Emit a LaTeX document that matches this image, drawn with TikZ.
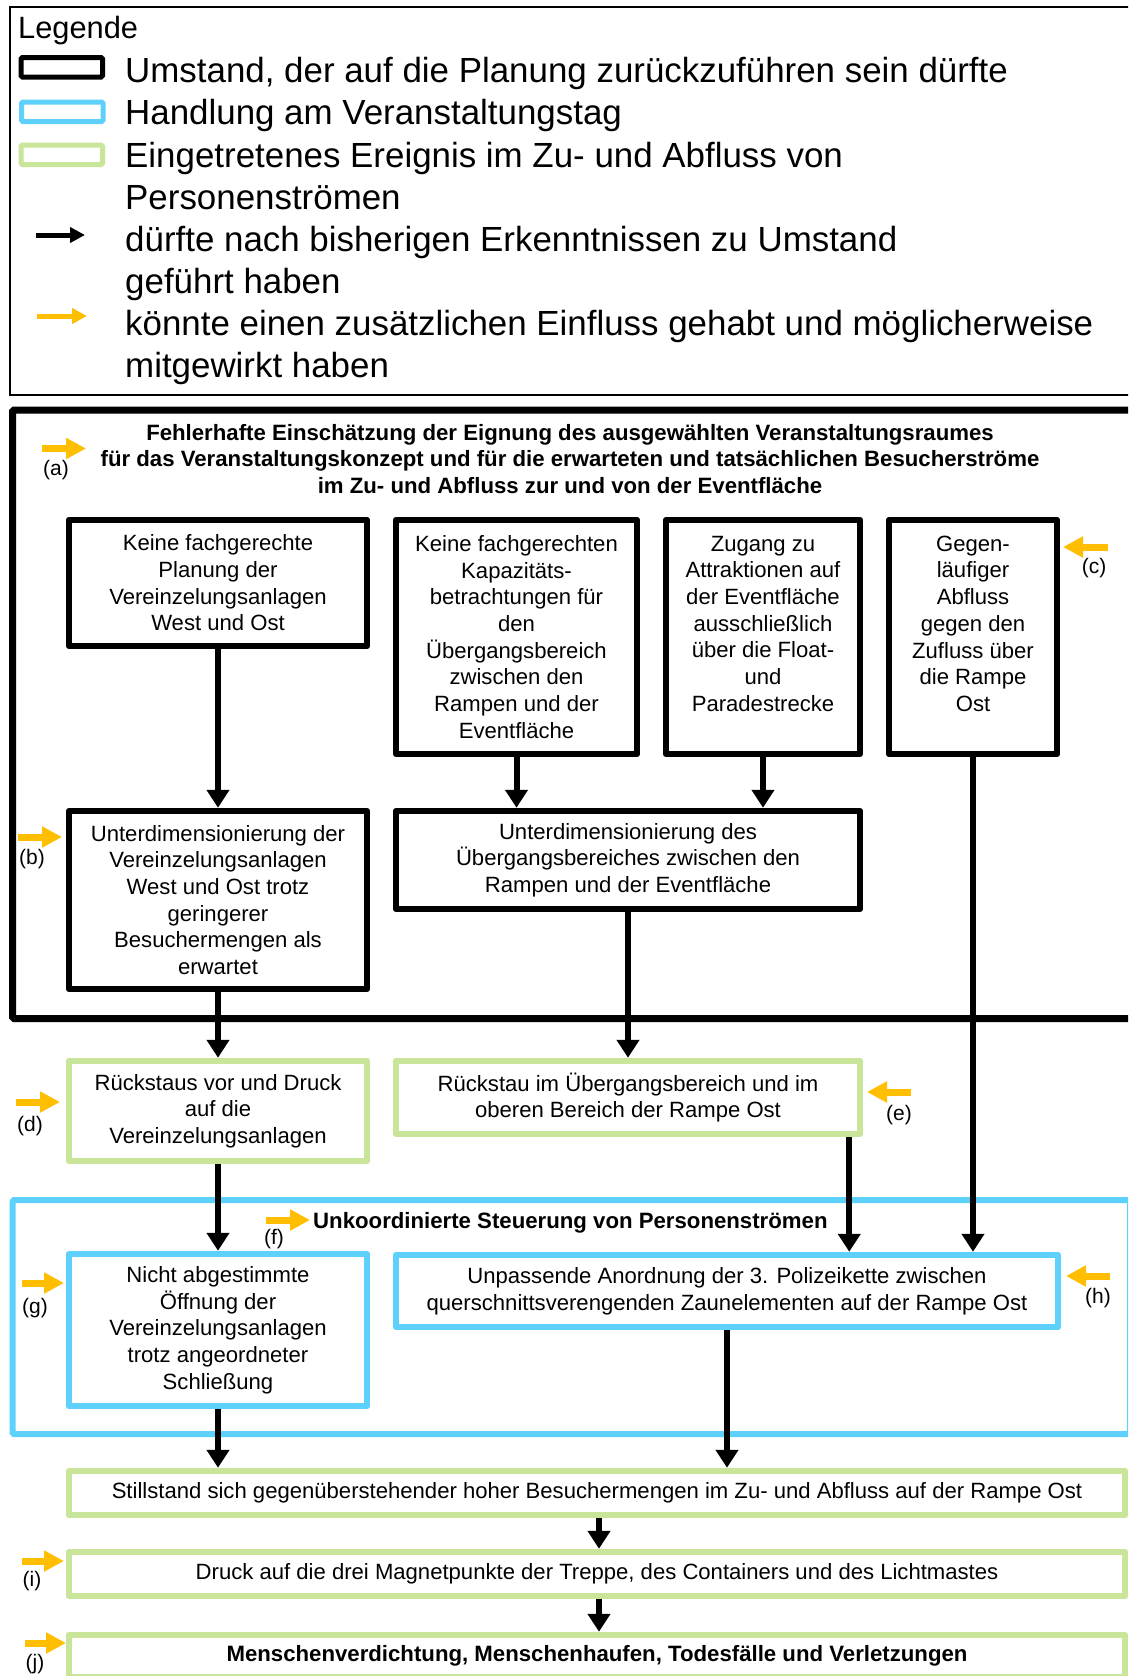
\documentclass[tikz,border=0pt]{standalone}
\usepackage{fontspec}
\setmainfont{Liberation Sans}
\usetikzlibrary{arrows.meta}
\definecolor{actblue}{RGB}{94,208,252}
\definecolor{evgreen}{RGB}{201,229,153}
\definecolor{hintorange}{RGB}{255,190,0}
\newcommand\myBoxFont{\fontsize{22.1}{26.7}\selectfont}
\newcommand\myBoldFont{\fontsize{22.2}{26.7}\selectfont\bfseries}
\newcommand\myTitleFont{\fontsize{22.2}{26.7}\selectfont\bfseries}
\newcommand\myLegFont{\fontsize{34.9}{42}\selectfont}
\newcommand\myLegHeadFont{\fontsize{30.8}{36}\selectfont}
\newcommand\myLabFont{\fontsize{21}{24}\selectfont}
\tikzset{
  boxbase/.style={rectangle, align=center, inner sep=0pt, font=\myBoxFont, line join=round},
  planbox/.style={boxbase, draw=black, line width=6.5pt},
  actbox/.style={boxbase, draw=actblue, line width=6.5pt},
  evbox/.style={boxbase, draw=evgreen, line width=6.5pt},
  flow/.style={-{Triangle[length=18pt,width=22pt]}, line width=6pt, draw=black},
  hint/.style={-{Triangle[length=20pt,width=20pt]}, line width=7pt, draw=hintorange},
  leglink/.style={-{Triangle[length=15pt,width=15pt]}, line width=5pt},
  lab/.style={font=\myLabFont, inner sep=0pt},
  legtext/.style={font=\myLegFont, align=left, anchor=west, inner sep=0pt},
}
\begin{document}
\begin{tikzpicture}[x=1pt,y=-1pt]
\useasboundingbox (0,0) rectangle (1128,1676);
\fill[white] (0,0) rectangle (1128,1676);
\clip (0,0) rectangle (1128,1676);

% ---------- legend ----------
\draw[line width=2pt] (10,7) rectangle (1140,395);
\node[font=\myLegHeadFont, anchor=west, inner sep=0pt] (leghead) at (18,31) {Legende};
\node[draw=black, line width=5pt, minimum width=81.5pt, minimum height=19.5pt, inner sep=0pt, rounded corners=1.5pt] (lk1) at (61.75,67.25) {};
\node[draw=actblue, line width=5pt, minimum width=81.5pt, minimum height=19.5pt, inner sep=0pt, rounded corners=1.5pt] (lk2) at (62.25,111.75) {};
\node[draw=evgreen, line width=5pt, minimum width=81.5pt, minimum height=19.5pt, inner sep=0pt, rounded corners=1.5pt] (lk3) at (61.75,154.75) {};
\node[legtext] (lt1) at (125,73) {Umstand, der auf die Planung zurückzuführen sein dürfte};
\node[legtext] (lt2) at (125,115) {Handlung am Veranstaltungstag};
\node[legtext] (lt3) at (125,176) {Eingetretenes Ereignis im Zu- und Abfluss von\\Personenströmen};
\node[legtext] (lt4) at (125,263) {dürfte nach bisherigen Erkenntnissen zu Umstand\\geführt haben};
\node[legtext] (lt5) at (125,347) {könnte einen zusätzlichen Einfluss gehabt und möglicherweise\\mitgewirkt haben};
\coordinate (la0) at (36,235); \coordinate (la1) at (85,235);
\draw[leglink, draw=black] (la0) -- (la1);
\coordinate (lb0) at (37,316); \coordinate (lb1) at (87,316);
\draw[leglink, draw=hintorange] (lb0) -- (lb1);

% ---------- frames ----------
\draw[line width=7pt, rounded corners=1.5pt] (12.5,410) rectangle (1140,1018.5);
\draw[line width=6pt, draw=actblue, rounded corners=1.5pt] (12.5,1200) rectangle (1130,1434);

% ---------- title texts ----------
\node[font=\myTitleFont, align=center, inner sep=0pt] (t1) at (570,459) {Fehlerhafte Einschätzung der Eignung des ausgewählten Veranstaltungsraumes\\für das Veranstaltungskonzept und für die erwarteten und tatsächlichen Besucherströme\\im Zu- und Abfluss zur und von der Eventfläche};
\node[font=\myBoldFont, anchor=west, inner sep=0pt] (t2) at (313,1223) {Unkoordinierte Steuerung von Personenströmen};

% ---------- boxes ----------
\node[planbox, minimum width=298pt, minimum height=126pt] (k1) at (218,583) {Keine fachgerechte\\Planung der\\Vereinzelungsanlagen\\West und Ost};
\node[planbox, minimum width=241pt, minimum height=234pt] (k2) at (516.5,637) {Keine fachgerechten\\Kapazitäts-\\betrachtungen für\\den\\Übergangsbereich\\zwischen den\\Rampen und der\\Eventfläche};
\node[planbox, minimum width=194pt, minimum height=234pt] (k3) at (763,637) {Zugang zu\\Attraktionen auf\\der Eventfläche\\ausschließlich\\über die Float-\\und\\Paradestrecke\\~};
\node[planbox, minimum width=168pt, minimum height=234pt] (k4) at (973,637) {Gegen-\\läufiger\\Abfluss\\gegen den\\Zufluss über\\die Rampe\\Ost\\~};
\node[planbox, minimum width=298pt, minimum height=178pt] (u1) at (218,900) {Unterdimensionierung der\\Vereinzelungsanlagen\\West und Ost trotz\\geringerer\\Besuchermengen als\\erwartet};
\node[planbox, minimum width=464pt, minimum height=98pt] (u2) at (628,860) {Unterdimensionierung des\\Übergangsbereiches zwischen den\\Rampen und der Eventfläche};
\node[evbox, minimum width=298pt, minimum height=100pt] (r1) at (218,1111) {Rückstaus vor und Druck\\auf die\\Vereinzelungsanlagen};
\node[evbox, minimum width=464pt, minimum height=73pt] (r2) at (628,1097.5) {Rückstau im Übergangsbereich und im\\oberen Bereich der Rampe Ost};
\node[actbox, minimum width=298pt, minimum height=152pt] (n1) at (218,1330) {Nicht abgestimmte\\Öffnung der\\Vereinzelungsanlagen\\trotz angeordneter\\Schließung};
\node[actbox, minimum width=662pt, minimum height=72pt] (p1) at (727,1291) {Unpassende Anordnung der 3. Polizeikette zwischen\\querschnittsverengenden Zaunelementen auf der Rampe Ost};
\node[evbox, minimum width=1056pt, minimum height=44pt] (s1) at (597,1493) {Stillstand sich gegenüberstehender hoher Besuchermengen im Zu- und Abfluss auf der Rampe Ost};
\node[evbox, minimum width=1056pt, minimum height=44pt] (d1) at (597,1574) {Druck auf die drei Magnetpunkte der Treppe, des Containers und des Lichtmastes};
\node[evbox, minimum width=1056pt, minimum height=42pt, font=\myBoldFont] (m1) at (597,1656) {Menschenverdichtung, Menschenhaufen, Todesfälle und Verletzungen};

% ---------- black connectors ----------
\draw[flow] (k1.south) -- (u1.north);
\draw[flow] (k2.south) -- (k2.south |- u2.north);
\draw[flow] (k3.south) -- (k3.south |- u2.north);
\draw[flow] (k4.south) -- (k4.south |- p1.north);
\draw[flow] (u1.south) -- (r1.north);
\draw[flow] (u2.south) -- (u2.south |- r2.north);
\draw[flow] ([xshift=-14pt]r2.south east) -- ([xshift=-14pt]r2.south east |- p1.north);
\draw[flow] (r1.south) -- (n1.north);
\draw[flow] (n1.south) -- (n1.south |- s1.north);
\draw[flow] (p1.south) -- (p1.south |- s1.north);
\draw[flow] ([xshift=2pt]s1.south) -- ([xshift=2pt]d1.north);
\draw[flow] ([xshift=2pt]d1.south) -- ([xshift=2pt]m1.north);

% ---------- orange hints ----------
\coordinate (ha0) at (42,448.5); \coordinate (ha1) at (86,448.5);
\draw[hint] (ha0) -- (ha1); \node[lab] (la) at (56,470) {(a)};
\coordinate (hb0) at (18,837); \coordinate (hb1) at (62,837);
\draw[hint] (hb0) -- (hb1); \node[lab] (lb) at (32,859) {(b)};
\coordinate (hc0) at (1108,547); \coordinate (hc1) at (1063,547);
\draw[hint] (hc0) -- (hc1); \node[lab] (lc) at (1094,568) {(c)};
\coordinate (hd0) at (16,1102); \coordinate (hd1) at (60,1102);
\draw[hint] (hd0) -- (hd1); \node[lab] (ld) at (30,1126) {(d)};
\coordinate (he0) at (911,1092); \coordinate (he1) at (867,1092);
\draw[hint] (he0) -- (he1); \node[lab] (le) at (899,1115) {(e)};
\coordinate (hf0) at (266,1220); \coordinate (hf1) at (310,1220);
\draw[hint] (hf0) -- (hf1); \node[lab] (lf) at (274,1239) {(f)};
\coordinate (hg0) at (22,1283); \coordinate (hg1) at (64,1283);
\draw[hint] (hg0) -- (hg1); \node[lab] (lg) at (35,1308) {(g)};
\coordinate (hh0) at (1110,1276); \coordinate (hh1) at (1066,1276);
\draw[hint] (hh0) -- (hh1); \node[lab] (lh) at (1098,1298) {(h)};
\coordinate (hi0) at (22,1561); \coordinate (hi1) at (64,1561);
\draw[hint] (hi0) -- (hi1); \node[lab] (li) at (32,1581) {(i)};
\coordinate (hj0) at (25,1643); \coordinate (hj1) at (66,1643);
\draw[hint] (hj0) -- (hj1); \node[lab] (lj) at (35,1664) {(j)};
\end{tikzpicture}
\end{document}
